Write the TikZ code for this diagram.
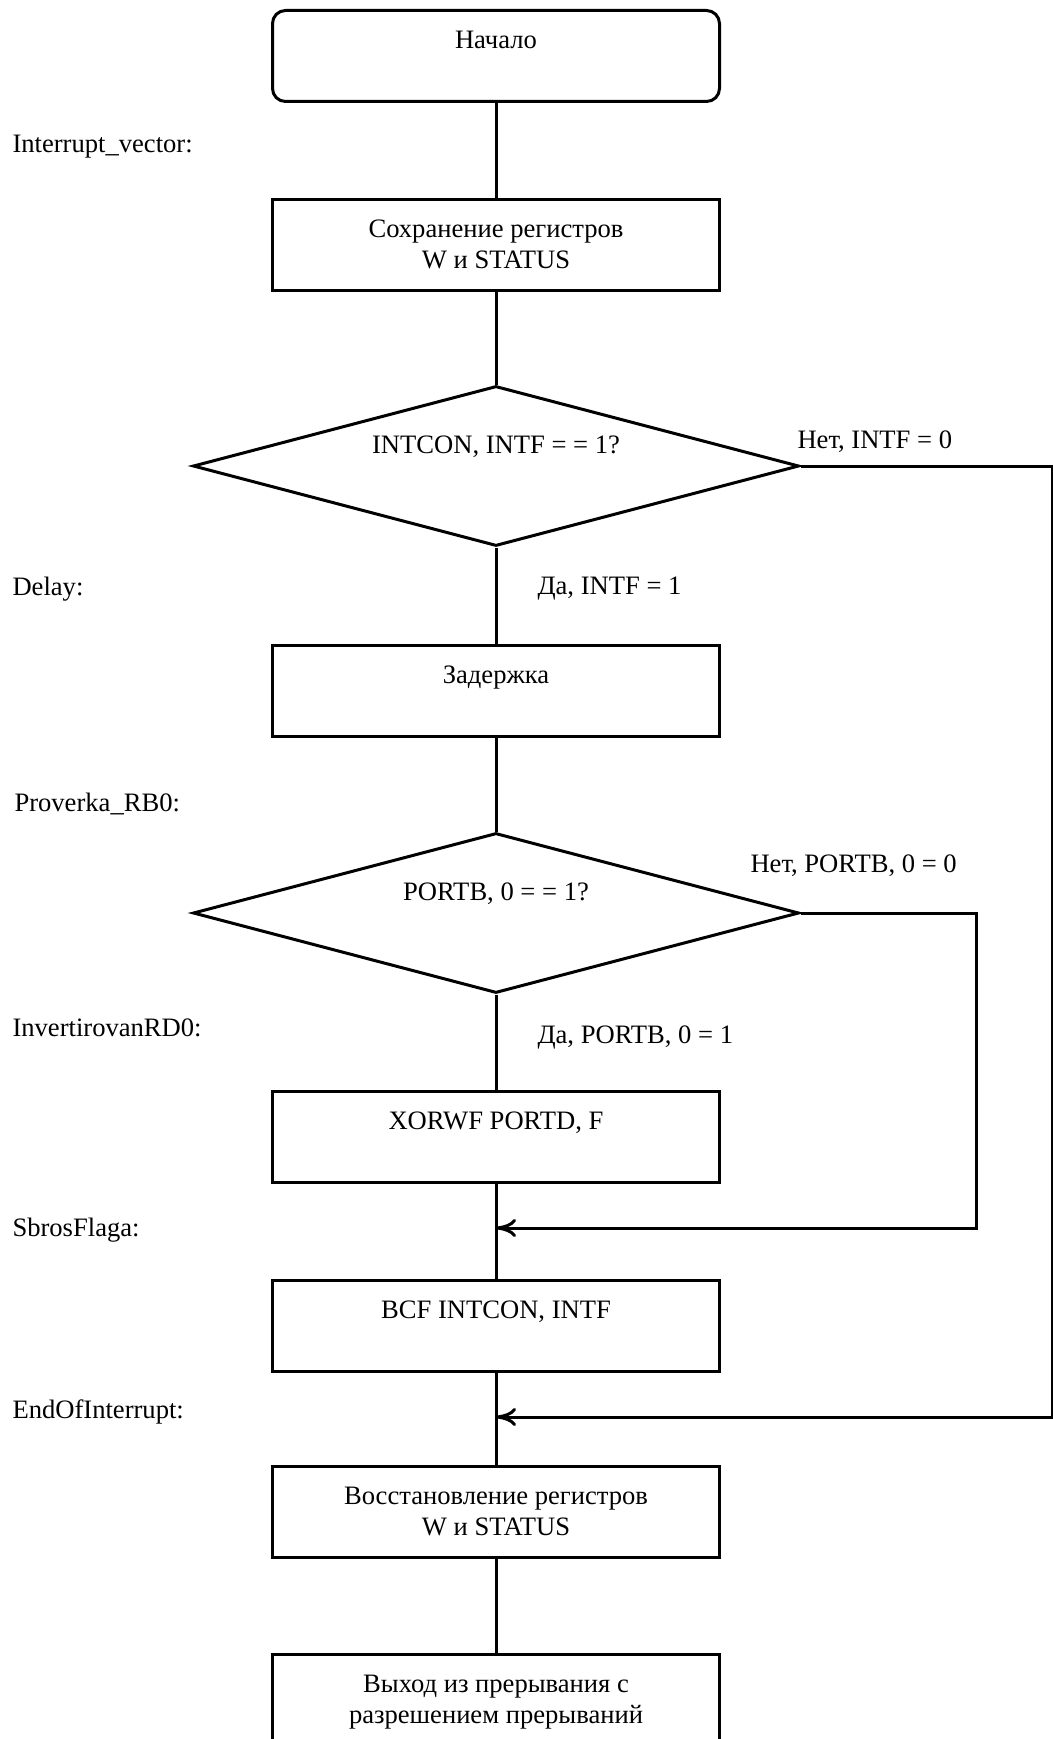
\documentclass[tikz,border=0pt]{standalone}
\usepackage{fontspec}
\setmainfont{Liberation Serif}
\usetikzlibrary{shapes.geometric}
\usetikzlibrary{arrows.meta}

\newcommand{\blocktext}[1]{\parbox[t][45.5pt][t]{223.5pt}{\centering\rule{0pt}{19pt}#1}}

\tikzset{
  block/.style={draw, rectangle, inner sep=0pt, anchor=north},
  startblock/.style={block, rounded corners=6.5pt},
  decision/.style={draw, diamond, inner sep=0pt, aspect=3.79, minimum width=303pt, minimum height=80pt, text height=9pt, text depth=22pt},
  asmlabel/.style={anchor=west, inner sep=0pt},
  merge/.style={-{To[length=10pt,width=9pt]}}
}

\begin{document}
\begin{tikzpicture}[x=0.5pt, y=-0.5pt, line width=1.5pt, font=\fontsize{13.3}{15.5}\selectfont]

            %\draw [help lines] (0,0) grid (1053,1739);
            \useasboundingbox (0,0) rectangle (1053,1739);

            \path   (496,9)    node (a) [startblock] {\blocktext{Начало}}
                    (496,198)  node (b) [block] {\blocktext{Сохранение регистров\\ W и STATUS}}
                    (496,466)  node (c) [decision] {INTCON, INTF = = 1?}
                    (496,644)  node (d) [block] {\blocktext{Задержка}}
                    (496,913)  node (e) [decision] {PORTB, 0 = = 1?}
                    (496,1090) node (f) [block] {\blocktext{XORWF PORTD, F}}
                    (496,1279) node (g) [block] {\blocktext{BCF INTCON, INTF}}
                    (496,1465) node (h) [block] {\blocktext{Восстановление регистров\\ W и STATUS}}
                    (496,1653) node (i) [block] {\blocktext{Выход из прерывания с\\ разрешением прерываний}};

            \path   (11,147)   node (la) [asmlabel] {Interrupt\_vector:}
                    (11,589)   node (lb) [asmlabel] {Delay:}
                    (13,804)   node (lc) [asmlabel] {Proverka\_RB0:}
                    (11,1028)  node (ld) [asmlabel] {InvertirovanRD0:}
                    (11,1230)  node (le) [asmlabel] {SbrosFlaga:}
                    (11,1412)  node (lf) [asmlabel] {EndOfInterrupt:}
                    (536,589)  node (ya) [asmlabel] {Да, INTF = 1}
                    (796,442)  node (na) [asmlabel] {Нет, INTF = 0}
                    (536,1037) node (yb) [asmlabel] {Да, PORTB, 0 = 1}
                    (749,866)  node (nb) [asmlabel] {Нет, PORTB, 0 = 0};

            \coordinate (m1) at (496,1228);
            \coordinate (m2) at (496,1417);

            \draw (a) -- (b);
            \draw (b) -- (c);
            \draw (c) -- (d);
            \draw (d) -- (e);
            \draw (e) -- (f);
            \draw (f) -- (g);
            \draw (g) -- (h);
            \draw (h) -- (i);

            \draw [merge] (e.east) -- ++(176,0) |- (m1);
            \draw [merge] (c.east) -- ++(252,0) |- (m2);

        \end{tikzpicture}
\end{document}
